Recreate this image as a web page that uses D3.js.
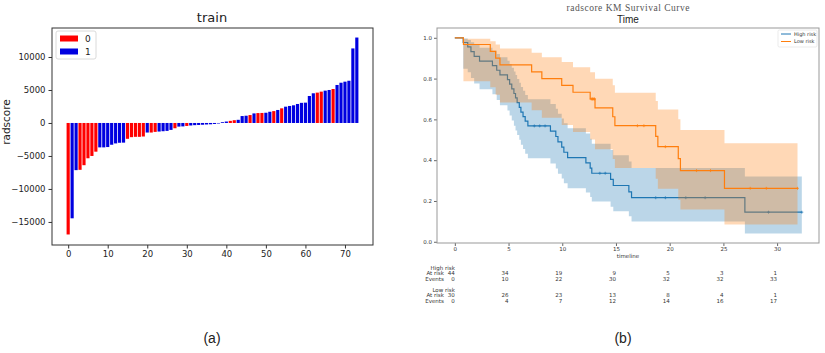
<!DOCTYPE html>
<html>
<head>
<meta charset="utf-8">
<script src="https://cdn.jsdelivr.net/npm/d3@7"></script>
<style>
  body { margin: 0; background: #fff; }
  svg { display: block; }
</style>
</head>
<body>
<div id="chart"></div>
<script>
// ---------- panel (a): sorted radscore bars ----------
const radscore = [
  -16900, -14450, -7150, -7100, -6400, -5350, -5000, -4350, -3700, -3700,
  -3650, -3300, -3100, -3000, -2980, -2400, -2150, -2100, -2100, -2050,
  -1450, -1450, -1350, -1300, -1250, -1200, -1050, -800, -550, -520,
  -450, -380, -330, -300, -270, -230, -200, -150, -80, 120,
  220, 320, 420, 480, 1050, 1100, 1200, 1450, 1500, 1520,
  1550, 1700, 1800, 1970, 2220, 2470, 2580, 2680, 2880, 3050,
  3080, 4090, 4500, 4600, 4750, 4900, 5000, 5150, 5760, 6100,
  6260, 6400, 11300, 12950
];
const groupLabel = [
  0, 1, 1, 0, 0, 0, 0, 0, 1, 1,
  1, 1, 1, 1, 1, 0, 0, 0, 0, 0,
  1, 0, 0, 1, 1, 1, 1, 0, 1, 1,
  0, 1, 1, 1, 1, 1, 1, 1, 1, 1,
  1, 0, 0, 1, 1, 1, 0, 1, 0, 0,
  1, 1, 0, 1, 0, 1, 1, 1, 1, 1,
  1, 1, 1, 0, 0, 1, 1, 0, 1, 1,
  1, 1, 1, 1
];
const legendA = ["0", "1"];
const yTicksA = [-15000, -10000, -5000, 0, 5000, 10000];
const xTicksA = [0, 10, 20, 30, 40, 50, 60, 70];

// ---------- panel (b): KM curves (step points) ----------
const highTime = [0, 0.78, 1.2, 1.5, 1.8, 2.3, 3.5, 3.9, 4.2, 4.9, 5.1, 5.3, 5.5, 5.65, 5.8, 6.0, 6.15, 6.35, 6.55, 6.8,
  8.9, 9.4, 9.6, 9.95, 10.15, 10.5, 12.2, 12.6, 12.75, 14.5, 14.75, 16.2, 16.45, 27.0, 32.3];
const highSurv = [1, .977, .955, .932, .909, .886, .864, .841, .818, .795, .773, .750, .727, .705, .682, .659, .636, .614, .591, .568,
  .542, .516, .490, .464, .439, .413, .387, .361, .336, .306, .276, .245, .216, .145, .145];
const highLower = [1, .848, .831, .803, .776, .748, .723, .695, .669, .644, .619, .594, .569, .546, .524, .500, .476, .455, .432, .409,
  .384, .359, .334, .310, .287, .263, .241, .219, .198, .172, .150, .125, .100, .040, .040];
const highUpper = [1, .997, .989, .978, .965, .951, .936, .921, .904, .888, .871, .853, .835, .817, .798, .779, .759, .740, .720, .699,
  .675, .652, .628, .604, .581, .556, .531, .505, .480, .450, .424, .394, .362, .320, .320];
const highCensor = [7.4, 7.9, 8.4, 13.5, 14.0, 18.7, 19.6, 21.5, 23.3, 29.2, 32.3];

const lowTime = [0, 0.8, 3.3, 3.8, 4.2, 7.15, 8.1, 9.95, 11.0, 12.6, 13.05, 14.7, 14.9, 18.7, 18.9, 20.8, 21.0, 25.1, 31.9];
const lowSurv = [1, .967, .933, .900, .867, .833, .800, .767, .733, .700, .656, .613, .569, .517, .466, .408, .349, .262, .262];
const lowLower = [1, .787, .758, .721, .683, .645, .608, .572, .538, .502, .453, .406, .362, .309, .260, .206, .158, .085, .085];
const lowUpper = [1, .995, .983, .967, .948, .927, .905, .881, .856, .831, .799, .767, .731, .690, .649, .601, .548, .483, .483];
const lowCensor = [12.7, 12.8, 12.85, 12.95, 13.0, 17.0, 17.6, 19.6, 22.5, 23.8, 27.5, 29.0, 31.9];

const groupNames = ["High risk", "Low risk"];
const yTicksB = [0, 0.2, 0.4, 0.6, 0.8, 1.0];
const riskTicks = [0, 5, 10, 15, 20, 25, 30];
const highAtRisk = [44, 34, 19, 9, 5, 3, 1];
const highEvents = [0, 10, 22, 30, 32, 32, 33];
const lowAtRisk = [30, 26, 23, 13, 8, 4, 1];
const lowEvents = [0, 4, 7, 12, 14, 16, 17];

const svg = d3.select("#chart")
  .append("svg")
  .attr("width", 825)
  .attr("height", 353)
  .style("font-family", "'DejaVu Sans', sans-serif");

// ======================= panel (a) =======================
const xa = d3.scaleLinear().domain([-4.09, 77.09]).range([52, 373]);
const ya = d3.scaleLinear().domain([-18495, 14395]).range([245, 28]);
const barColor = d3.scaleOrdinal().domain([0, 1]).range(["#ff0000", "#0000e0"]);

const gA = svg.append("g");

gA.selectAll("rect.bar")
  .data(radscore)
  .join("rect")
    .attr("class", "bar")
    .attr("x", (d, i) => xa(i - 0.4))
    .attr("width", xa(0.8) - xa(0))
    .attr("y", d => ya(Math.max(0, d)))
    .attr("height", d => Math.abs(ya(d) - ya(0)))
    .attr("fill", (d, i) => barColor(groupLabel[i]));

function styleAxis(g, size, tickColor, textColor) {
  g.attr("font-family", null).attr("font-size", size);
  g.select(".domain").remove();
  g.selectAll(".tick line").attr("stroke", tickColor);
  g.selectAll(".tick text").attr("fill", textColor);
}

gA.append("g")
  .attr("transform", "translate(52,0)")
  .call(d3.axisLeft(ya).tickValues(yTicksA).tickFormat(d3.format("d")).tickSize(3.5).tickPadding(3))
  .call(g => styleAxis(g, 8.5, "#333", "#222"));

gA.append("g")
  .attr("transform", "translate(0,245)")
  .call(d3.axisBottom(xa).tickValues(xTicksA).tickSize(3.5).tickPadding(2.5))
  .call(g => styleAxis(g, 8.5, "#333", "#222"));

gA.append("rect")
  .attr("x", 52).attr("y", 28)
  .attr("width", 321).attr("height", 217)
  .attr("fill", "none")
  .attr("stroke", "#333")
  .attr("stroke-width", 1);

// legend
const legA = gA.append("g");
legA.append("rect")
  .attr("x", 56).attr("y", 31).attr("width", 40).attr("height", 28).attr("rx", 2)
  .attr("fill", "#fff").attr("stroke", "#d0d0d0").attr("stroke-width", 0.8);
legA.selectAll("rect.patch")
  .data(legendA)
  .join("rect")
    .attr("class", "patch")
    .attr("x", 60)
    .attr("y", (d, i) => 35.5 + i * 13)
    .attr("width", 18).attr("height", 6)
    .attr("fill", (d, i) => barColor(i));
legA.selectAll("text")
  .data(legendA)
  .join("text")
    .attr("x", 85)
    .attr("y", (d, i) => 41.5 + i * 13)
    .attr("font-size", 9)
    .attr("fill", "#222")
    .text(d => d);

gA.append("text")
  .attr("x", 212).attr("y", 22)
  .attr("text-anchor", "middle")
  .attr("font-size", 13)
  .attr("fill", "#222")
  .text("train");

gA.append("text")
  .attr("transform", "translate(9.5,122) rotate(-90)")
  .attr("text-anchor", "middle")
  .attr("font-size", 10.5)
  .attr("fill", "#222")
  .text("radscore");

// ======================= panel (b) =======================
const xk = d3.scaleLinear().domain([-1.66, 33.9]).range([437, 819]);
const yk = d3.scaleLinear().domain([-0.006, 1.048]).range([243, 28]);
const kmColor = d3.scaleOrdinal().domain(groupNames).range(["#1f77b4", "#ff7f0e"]);

const gB = svg.append("g");

const groups = [
  {name: "High risk", time: highTime, surv: highSurv, lo: highLower, hi: highUpper, cens: highCensor},
  {name: "Low risk", time: lowTime, surv: lowSurv, lo: lowLower, hi: lowUpper, cens: lowCensor}
];

const band = d3.area()
  .curve(d3.curveStepAfter)
  .x(d => xk(d.t))
  .y0(d => yk(d.lo))
  .y1(d => yk(d.hi));

const km = d3.line()
  .curve(d3.curveStepAfter)
  .x(d => xk(d.t))
  .y(d => yk(d.s));

groups.forEach(grp => {
  const pts = grp.time.map((t, i) => ({t: t, s: grp.surv[i], lo: grp.lo[i], hi: grp.hi[i]}));
  const col = kmColor(grp.name);

  gB.append("path")
    .datum(pts)
    .attr("d", km)
    .attr("fill", "none")
    .attr("stroke", col)
    .attr("stroke-width", 1.2);

  gB.append("path")
    .datum(pts)
    .attr("d", band)
    .attr("fill", col)
    .attr("fill-opacity", 0.3);

  // censor marks
  gB.selectAll(null)
    .data(grp.cens)
    .join("path")
      .attr("d", t => {
        const s = grp.surv[d3.bisectRight(grp.time, t) - 1];
        const cx = xk(t), cy = yk(s);
        return `M${cx - 1.5},${cy}H${cx + 1.5}M${cx},${cy - 1.5}V${cy + 1.5}`;
      })
      .attr("stroke", col)
      .attr("stroke-width", 0.7);
});

gB.append("g")
  .attr("transform", "translate(437,0)")
  .call(d3.axisLeft(yk).tickValues(yTicksB).tickFormat(d3.format(".1f")).tickSize(3).tickPadding(2))
  .call(g => styleAxis(g, 5.5, "#666", "#333"));

gB.append("g")
  .attr("transform", "translate(0,243)")
  .call(d3.axisBottom(xk).tickValues(riskTicks).tickSize(3).tickPadding(1.5))
  .call(g => styleAxis(g, 5.5, "#666", "#333"));

gB.append("rect")
  .attr("x", 437).attr("y", 28)
  .attr("width", 382).attr("height", 215)
  .attr("fill", "none")
  .attr("stroke", "#999")
  .attr("stroke-width", 1);

// legend
const legB = gB.append("g");
legB.append("rect")
  .attr("x", 778).attr("y", 30).attr("width", 39).attr("height", 17).attr("rx", 1.5)
  .attr("fill", "#fff").attr("stroke", "#ddd").attr("stroke-width", 0.6);
legB.selectAll("line")
  .data(groupNames)
  .join("line")
    .attr("x1", 781).attr("x2", 791)
    .attr("y1", (d, i) => 34 + i * 7.5)
    .attr("y2", (d, i) => 34 + i * 7.5)
    .attr("stroke", d => kmColor(d))
    .attr("stroke-width", 1);
legB.selectAll("text")
  .data(groupNames)
  .join("text")
    .attr("x", 794)
    .attr("y", (d, i) => 35.8 + i * 7.5)
    .attr("font-size", 5)
    .attr("fill", "#333")
    .text(d => d);

gB.append("text")
  .attr("x", 628).attr("y", 10.5)
  .attr("text-anchor", "middle")
  .attr("font-family", "'Liberation Serif', serif")
  .attr("font-size", 9.5)
  .attr("textLength", 123)
  .attr("fill", "#555")
  .text("radscore KM Survival Curve");

gB.append("text")
  .attr("x", 628).attr("y", 23)
  .attr("text-anchor", "middle")
  .attr("font-family", "'Liberation Sans', Arial, sans-serif")
  .attr("font-size", 10)
  .attr("fill", "#222")
  .text("Time");

gB.append("text")
  .attr("x", 628).attr("y", 258)
  .attr("text-anchor", "middle")
  .attr("font-size", 5.5)
  .attr("fill", "#333")
  .text("timeline");

// at-risk table
const table = gB.append("g").attr("font-size", 5.5).attr("fill", "#333");
const tableRows = [
  {title: "High risk", at: highAtRisk, ev: highEvents, y: 269.5},
  {title: "Low risk", at: lowAtRisk, ev: lowEvents, y: 291.8}
];
tableRows.forEach(r => {
  table.append("text")
    .attr("x", xk(0)).attr("y", r.y)
    .attr("text-anchor", "end")
    .text(r.title);
  table.append("text")
    .attr("x", xk(0) - 11).attr("y", r.y + 5.6)
    .attr("text-anchor", "end")
    .text("At risk");
  table.append("text")
    .attr("x", xk(0) - 11).attr("y", r.y + 11.1)
    .attr("text-anchor", "end")
    .text("Events");
  table.selectAll(null)
    .data(riskTicks)
    .join("text")
      .attr("x", d => xk(d))
      .attr("y", r.y + 5.6)
      .attr("text-anchor", "end")
      .text((d, i) => r.at[i]);
  table.selectAll(null)
    .data(riskTicks)
    .join("text")
      .attr("x", d => xk(d))
      .attr("y", r.y + 11.1)
      .attr("text-anchor", "end")
      .text((d, i) => r.ev[i]);
});

// panel captions
svg.selectAll("text.caption")
  .data([{x: 212, t: "(a)"}, {x: 623, t: "(b)"}])
  .join("text")
    .attr("class", "caption")
    .attr("x", d => d.x)
    .attr("y", 343)
    .attr("text-anchor", "middle")
    .attr("font-family", "'Liberation Sans', Arial, sans-serif")
    .attr("font-size", 14)
    .attr("fill", "#222")
    .text(d => d.t);
</script>
</body>
</html>
